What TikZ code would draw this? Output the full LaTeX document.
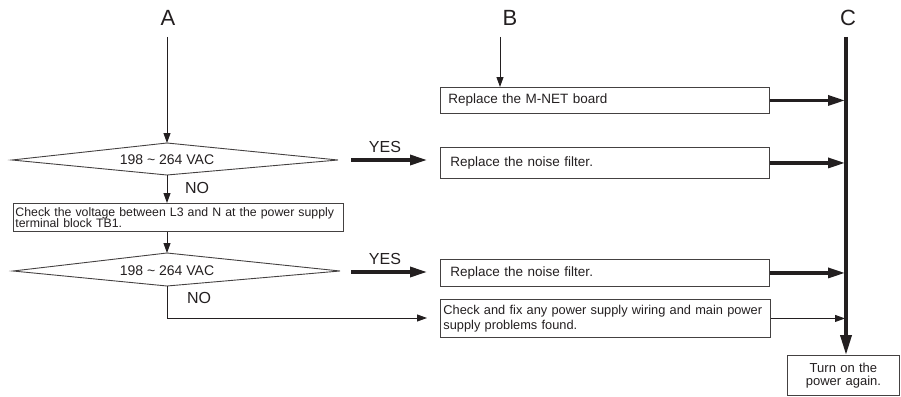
\documentclass[tikz,border=0pt]{standalone}
\usepackage{fontspec}
\setmainfont{Liberation Sans}
\usetikzlibrary{arrows.meta}
\definecolor{ink}{HTML}{231F20}
\begin{document}
\begin{tikzpicture}[x=1pt,y=-1pt,
  every node/.style={text=ink},
  letter/.style={font=\fontsize{22}{24}\selectfont, inner sep=0pt},
  thinarrow/.style={draw=ink, line width=0.9pt, -{Triangle[length=10pt,width=7pt]}},
  thickarrow/.style={draw=ink, line width=3.3pt, -{Triangle[length=17pt,width=10pt]}},
  mainline/.style={draw=ink, line width=3.6pt, -{Triangle[length=20pt,width=11pt]}},
  dia/.style={draw=ink!85, line width=0.9pt},
  diatext/.style={font=\fontsize{14}{16}\selectfont, inner sep=0pt},
  answer/.style={font=\fontsize{16}{18}\selectfont, inner sep=0pt},
  box/.style={draw=ink!85, line width=0.9pt, anchor=north west, align=left, inner ysep=0pt},
]
\useasboundingbox (0,0) rectangle (901,396);

% column labels
\node[letter] (A) at (168,18) {A};
\node[letter] (B) at (510,18) {B};
\node[letter] (C) at (848,18) {C};
\coordinate (aTop) at (167,37);
\coordinate (bTop) at (500,37);
\coordinate (cTop) at (846,37);

% decision 1
\coordinate (d1t) at (167,143);
\coordinate (d1b) at (167,175);
\draw[dia] (12,160) -- (d1t) -- (338,160) -- (d1b) -- cycle;
\node[diatext] (d1) at (167,160) {198 \char`~{} 264 VAC};

% check box
\node[box, minimum width=330pt, minimum height=28pt, text width=326pt, inner xsep=2pt,
      font=\fontsize{12.3}{11.5}\selectfont] (chk) at (13,203)
  {\mbox{Check the voltage between L3 and N at the power supply}\\terminal block TB1.};

% decision 2
\coordinate (d2t) at (167,253);
\coordinate (d2b) at (167,286);
\draw[dia] (13,271) -- (d2t) -- (340,271) -- (d2b) -- cycle;
\node[diatext] (d2) at (167,271) {198 \char`~{} 264 VAC};

% right boxes
\node[box, minimum width=329pt, minimum height=26pt, text width=313pt, inner xsep=8pt,
      font=\fontsize{13.5}{15}\selectfont] (mnet) at (440,87) {Replace the M-NET board};
\node[box, minimum width=329pt, minimum height=31pt, text width=309pt, inner xsep=10pt,
      font=\fontsize{13.5}{15}\selectfont] (nf1) at (440,147) {Replace the noise filter.};
\node[box, minimum width=329pt, minimum height=27pt, text width=309pt, inner xsep=10pt,
      font=\fontsize{13.5}{15}\selectfont] (nf2) at (440,259) {Replace the noise filter.};
\node[box, minimum width=330pt, minimum height=38pt, text width=324pt, inner xsep=3pt,
      font=\fontsize{12.8}{15}\selectfont] (fix) at (440,299)
  {\mbox{Check and fix any power supply wiring and main power}\\supply problems found.};
\node[box, minimum width=112pt, minimum height=40pt, text width=106pt, inner xsep=3pt,
      align=center, font=\fontsize{13}{13}\selectfont] (turn) at (787,355)
  {Turn on the\\power again.};

% labels
\node[answer] (yes1) at (385,147) {YES};
\node[answer] (yes2) at (385,259) {YES};
\node[answer] (no1) at (197,188) {NO};
\node[answer] (no2) at (199,298) {NO};

% flow A
\draw[thinarrow] (aTop) -- (d1t);
\draw[thinarrow] (d1b) -- (chk.north -| d1b);
\draw[thinarrow] (chk.south -| d2t) -- (d2t);
\coordinate (noCorner) at (167,318);
\coordinate (noEnd) at (427,318);
\draw[thinarrow] (d2b) -- (noCorner) -- (noEnd);

% YES arrows
\coordinate (y1s) at (351,160);
\coordinate (y1e) at (427,160);
\coordinate (y2s) at (351,272);
\coordinate (y2e) at (427,272);
\draw[thickarrow] (y1s) -- (y1e);
\draw[thickarrow] (y2s) -- (y2e);

% flow B
\draw[thinarrow] (bTop) -- (mnet.north -| bTop);

% flow C
\coordinate (cx) at (845,0);
\draw[mainline] (cTop) -- (cTop |- turn.north);
\draw[thickarrow] (mnet.east) -- (mnet.east -| cx);
\draw[thickarrow] (nf1.east) -- (nf1.east -| cx);
\draw[thickarrow] (nf2.east) -- (nf2.east -| cx);
\draw[thinarrow] (fix.east) -- (fix.east -| cx);
\end{tikzpicture}
\end{document}
